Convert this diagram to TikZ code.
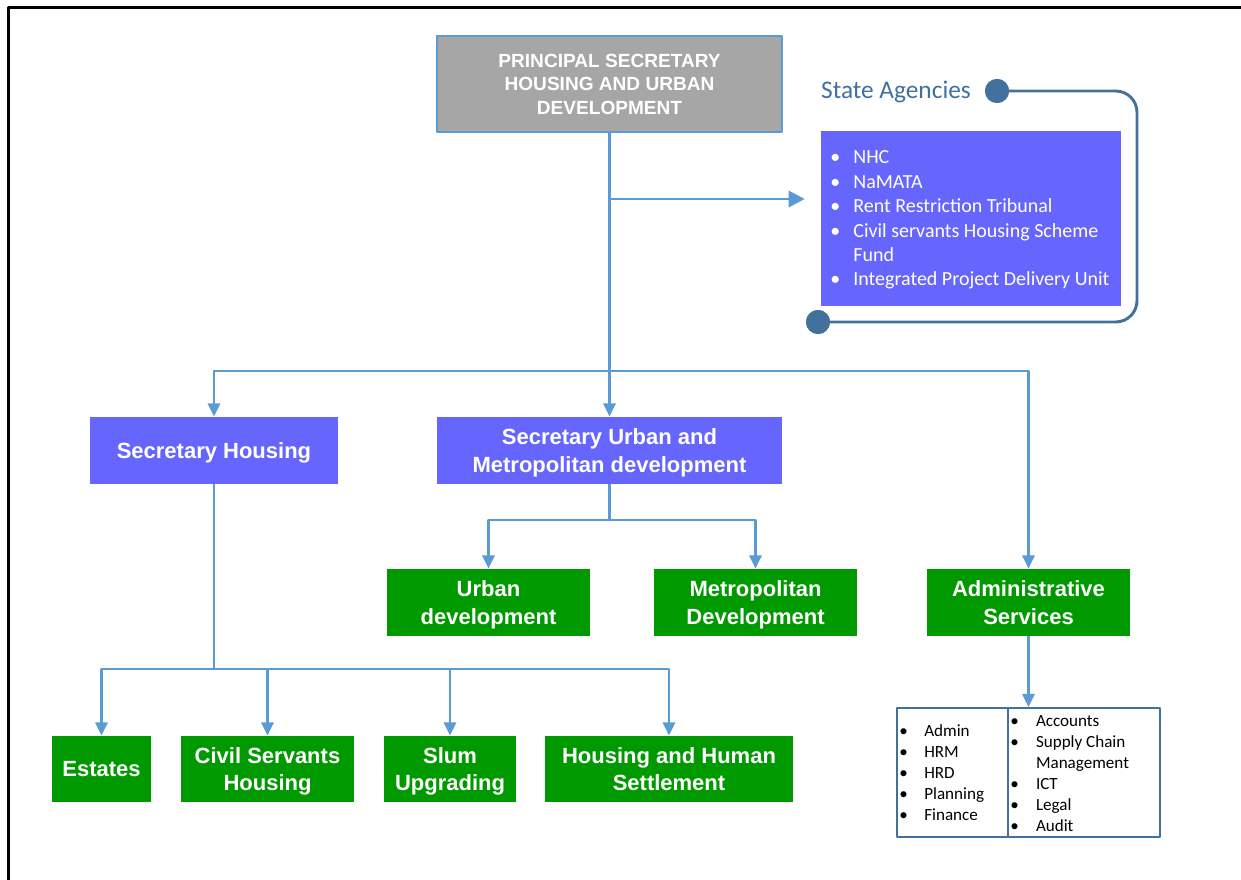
\documentclass[tikz,border=0pt]{standalone}
\usepackage{fontspec}
\setmainfont{Liberation Sans}
\newfontfamily\calibri{Carlito}
\usetikzlibrary{arrows.meta}
\definecolor{linkblue}{HTML}{5B9BD5}
\definecolor{loopblue}{HTML}{41719C}
\definecolor{titleblue}{HTML}{3F6FA3}
\definecolor{violetbox}{HTML}{6666FF}
\definecolor{greenbox}{HTML}{009900}
\definecolor{graybox}{HTML}{A6A6A6}
\newcommand\pxu{0.75pt}

\begin{document}
\begin{tikzpicture}
	[line join=round,x=0.75pt,y=-0.75pt,
	conn/.style={draw=linkblue,line width=2.2pt},
	arr/.style={conn,-{Triangle[length=10pt,width=9pt]}},
	orgbox/.style={fill=#1,text=white,align=center,inner sep=2pt,text depth=0pt,
		font=\bfseries\fontsize{16.5}{20.5}\selectfont,minimum height=67*\pxu},
	dot/.style={circle,fill=loopblue,inner sep=0pt,minimum size=24*\pxu}]
	\useasboundingbox (0,0) rectangle (1241,880);
	\draw [line width=2.25pt] (8,880) -- (8,8) -- (1241,8);
	% top of the chart
	\node [orgbox=graybox,draw=linkblue,line width=0.8pt,minimum width=345*\pxu,minimum height=96*\pxu,
		font=\bfseries\fontsize{14.3}{17.6}\selectfont] (principal) at (609.5,84)
		{PRINCIPAL SECRETARY\\HOUSING AND URBAN\\DEVELOPMENT};
	% state agencies
	\node [text=titleblue,font=\calibri\fontsize{19}{22}\selectfont] (agtitle) at (896,92) {State Agencies};
	\node [fill=violetbox,minimum width=300*\pxu,minimum height=175*\pxu] (agbox) at (971,218.5) {};
	\node [anchor=base west,inner sep=0pt,text=white,font=\calibri\fontsize{15}{18.3}\selectfont] (aglist) at (830,164)
		{\begin{tabular}[t]{@{}p{17.3pt}@{}l@{}}
			\textbullet & NHC\\
			\textbullet & NaMATA\\
			\textbullet & Rent Restriction Tribunal\\
			\textbullet & Civil servants Housing Scheme\\
			& Fund\\
			\textbullet & Integrated Project Delivery Unit
		\end{tabular}};
	\node [dot] (dtop) at (997,91) {};
	\node [dot] (dbot) at (818,322) {};
	\draw [draw=loopblue,line width=2.2pt,rounded corners=16pt] (dtop.center) -- (1137,91) -- (1137,322) -- (dbot.center);
	\node [dot] at (dtop) {};
	\node [dot] at (dbot) {};
	% secretaries
	\node [orgbox=violetbox,minimum width=248*\pxu] (sechousing) at (214,450.5) {Secretary Housing};
	\node [orgbox=violetbox,minimum width=345*\pxu] (securban) at (609.5,450.5) {Secretary Urban and\\Metropolitan development};
	% departments
	\node [orgbox=greenbox,minimum width=203*\pxu] (urban) at (488.5,602.5) {Urban\\development};
	\node [orgbox=greenbox,minimum width=203*\pxu] (metro) at (755.5,602.5) {Metropolitan\\Development};
	\node [orgbox=greenbox,minimum width=203*\pxu] (admin) at (1028.5,602.5) {Administrative\\Services};
	\node [orgbox=greenbox,minimum width=99*\pxu,minimum height=66*\pxu] (estates) at (101.5,769) {Estates};
	\node [orgbox=greenbox,minimum width=173*\pxu,minimum height=66*\pxu] (civil) at (267.5,769) {Civil Servants\\Housing};
	\node [orgbox=greenbox,minimum width=132*\pxu,minimum height=66*\pxu] (slum) at (450,769) {Slum\\Upgrading};
	\node [orgbox=greenbox,minimum width=248*\pxu,minimum height=66*\pxu] (settlement) at (669,769) {Housing and Human\\Settlement};
	% admin list
	\node [draw=loopblue,line width=1.2pt,minimum width=263*\pxu,minimum height=129*\pxu] (adminlist) at (1028.5,772.5) {};
	\draw [draw=loopblue,line width=1.2pt] (1008,708) -- (1008,837);
	\node [anchor=base west,inner sep=0pt,font=\calibri\fontsize{12.8}{15.75}\selectfont] (leftlist) at (899,736)
		{\begin{tabular}[t]{@{}p{18.8pt}@{}l@{}}
			\textbullet & Admin\\
			\textbullet & HRM\\
			\textbullet & HRD\\
			\textbullet & Planning\\
			\textbullet & Finance
		\end{tabular}};
	\node [anchor=base west,inner sep=0pt,font=\calibri\fontsize{12.8}{15.75}\selectfont] (rightlist) at (1010,726)
		{\begin{tabular}[t]{@{}p{19.3pt}@{}l@{}}
			\textbullet & Accounts\\
			\textbullet & Supply Chain\\
			& Management\\
			\textbullet & ICT\\
			\textbullet & Legal\\
			\textbullet & Audit
		\end{tabular}};
	% connectors
	\coordinate (split) at (609.5,199);
	\coordinate (bus) at (609.5,371);
	\coordinate (ubus) at (609.5,520);
	\coordinate (hbus) at (214,669);
	\draw [arr] (principal.south) -- (securban.north);
	\draw [conn,-{Triangle[length=12pt,width=12pt]},shorten >=12pt] (split) -- (split -| agbox.west);
	\draw [arr] (bus) -| (sechousing.north);
	\draw [arr] (bus) -| (admin.north);
	\draw [conn] (securban.south) -- (ubus);
	\draw [arr] (ubus) -| (urban.north);
	\draw [arr] (ubus) -| (metro.north);
	\draw [conn] (sechousing.south) -- (hbus);
	\draw [arr] (hbus) -| (estates.north);
	\draw [arr] (hbus) -| (civil.north);
	\draw [arr] (hbus) -| (slum.north);
	\draw [arr] (hbus) -| (settlement.north);
	\draw [arr] (admin.south) -- (adminlist.north);
\end{tikzpicture}
\end{document}
